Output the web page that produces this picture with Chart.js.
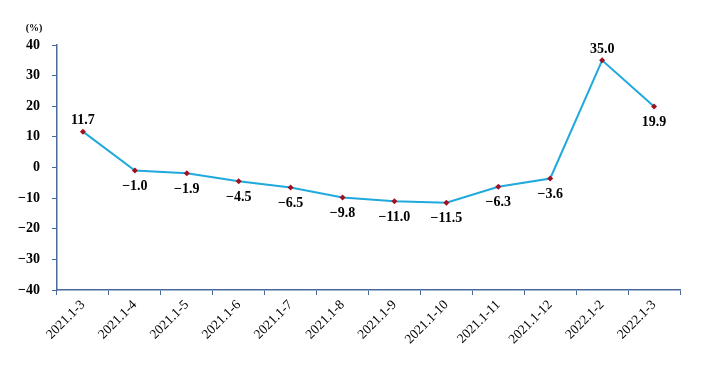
<!DOCTYPE html>
<html>
<head>
<meta charset="utf-8">
<script src="https://cdn.jsdelivr.net/npm/chart.js@4"></script>
<style>
  html, body { margin: 0; padding: 0; background: #fff; }
  #wrap { width: 727px; height: 371px; position: relative; }
</style>
</head>
<body>
<div id="wrap"><canvas id="chart"></canvas></div>
<script>
// 데이터
const categories = ['2021.1-3', '2021.1-4', '2021.1-5', '2021.1-6', '2021.1-7', '2021.1-8',
    '2021.1-9', '2021.1-10', '2021.1-11', '2021.1-12', '2022.1-2', '2022.1-3'];
const growthValues = [11.7, -1.0, -1.9, -4.5, -6.5, -9.8, -11.0, -11.5, -6.3, -3.6, 35.0, 19.9];
const yTicks = [40, 30, 20, 10, 0, -10, -20, -30, -40];

const axisColor = '#4a6a9c';
const serif = '"Liberation Serif", "DejaVu Serif", serif';

// 음수는 긴 마이너스 기호로
const fmt = (v, digits) => (v < 0 ? '\u2212' : '') + Math.abs(v).toFixed(digits);

// 값 레이블 (피크는 위, 나머지는 아래)
const valueLabels = {
    id: 'valueLabels',
    afterDatasetsDraw(chart) {
        const ctx = chart.ctx;
        const pts = chart.getDatasetMeta(0).data;
        ctx.save();
        ctx.font = 'bold 14px ' + serif;
        ctx.fillStyle = '#000';
        ctx.textAlign = 'center';
        ctx.textBaseline = 'middle';
        growthValues.forEach((v, i) => {
            const prev = i > 0 ? growthValues[i - 1] : -Infinity;
            const next = i < growthValues.length - 1 ? growthValues[i + 1] : -Infinity;
            const above = v > prev && v > next;
            const p = pts[i];
            ctx.fillText(fmt(v, 1), p.x, above ? p.y - 11 : p.y + 16);
        });
        // 단위
        ctx.font = 'bold 10px ' + serif;
        ctx.fillText('(%)', 34, 28);
        ctx.restore();
    }
};

new Chart(document.getElementById('chart'), {
    type: 'line',
    data: {
        labels: categories,
        datasets: [{
            data: growthValues,
            borderColor: '#1fa9dc',
            borderWidth: 2,
            pointStyle: 'rectRot',
            pointRadius: 3,
            pointBackgroundColor: '#a01020',
            pointBorderColor: '#a01020',
            pointBorderWidth: 0,
            tension: 0
        }]
    },
    options: {
        responsive: true,
        maintainAspectRatio: false,
        animation: false,
        layout: { padding: { top: 45, right: 47, left: 0, bottom: 0 } },
        plugins: {
            legend: { display: false },
            tooltip: { enabled: false }
        },
        scales: {
            x: {
                offset: true,
                grid: {
                    offset: true,
                    drawOnChartArea: false,
                    drawTicks: true,
                    tickLength: 5,
                    color: axisColor
                },
                border: { color: axisColor, width: 1.5 },
                ticks: {
                    color: '#000',
                    font: { family: serif, size: 13.5 },
                    maxRotation: 45,
                    minRotation: 45,
                    autoSkip: false,
                    padding: 2
                },
                afterFit(scale) { scale.height = 81; }
            },
            y: {
                min: -40,
                max: 40,
                afterBuildTicks(scale) { scale.ticks = yTicks.map(v => ({ value: v })); },
                grid: {
                    drawOnChartArea: false,
                    drawTicks: true,
                    tickLength: 5,
                    color: axisColor
                },
                border: { color: axisColor, width: 1.5 },
                ticks: {
                    color: '#000',
                    font: { family: serif, size: 14, weight: 'bold' },
                    padding: 12,
                    callback: (v) => fmt(v, 0)
                },
                afterFit(scale) { scale.width = 57; }
            }
        }
    },
    plugins: [valueLabels]
});
</script>
</body>
</html>
